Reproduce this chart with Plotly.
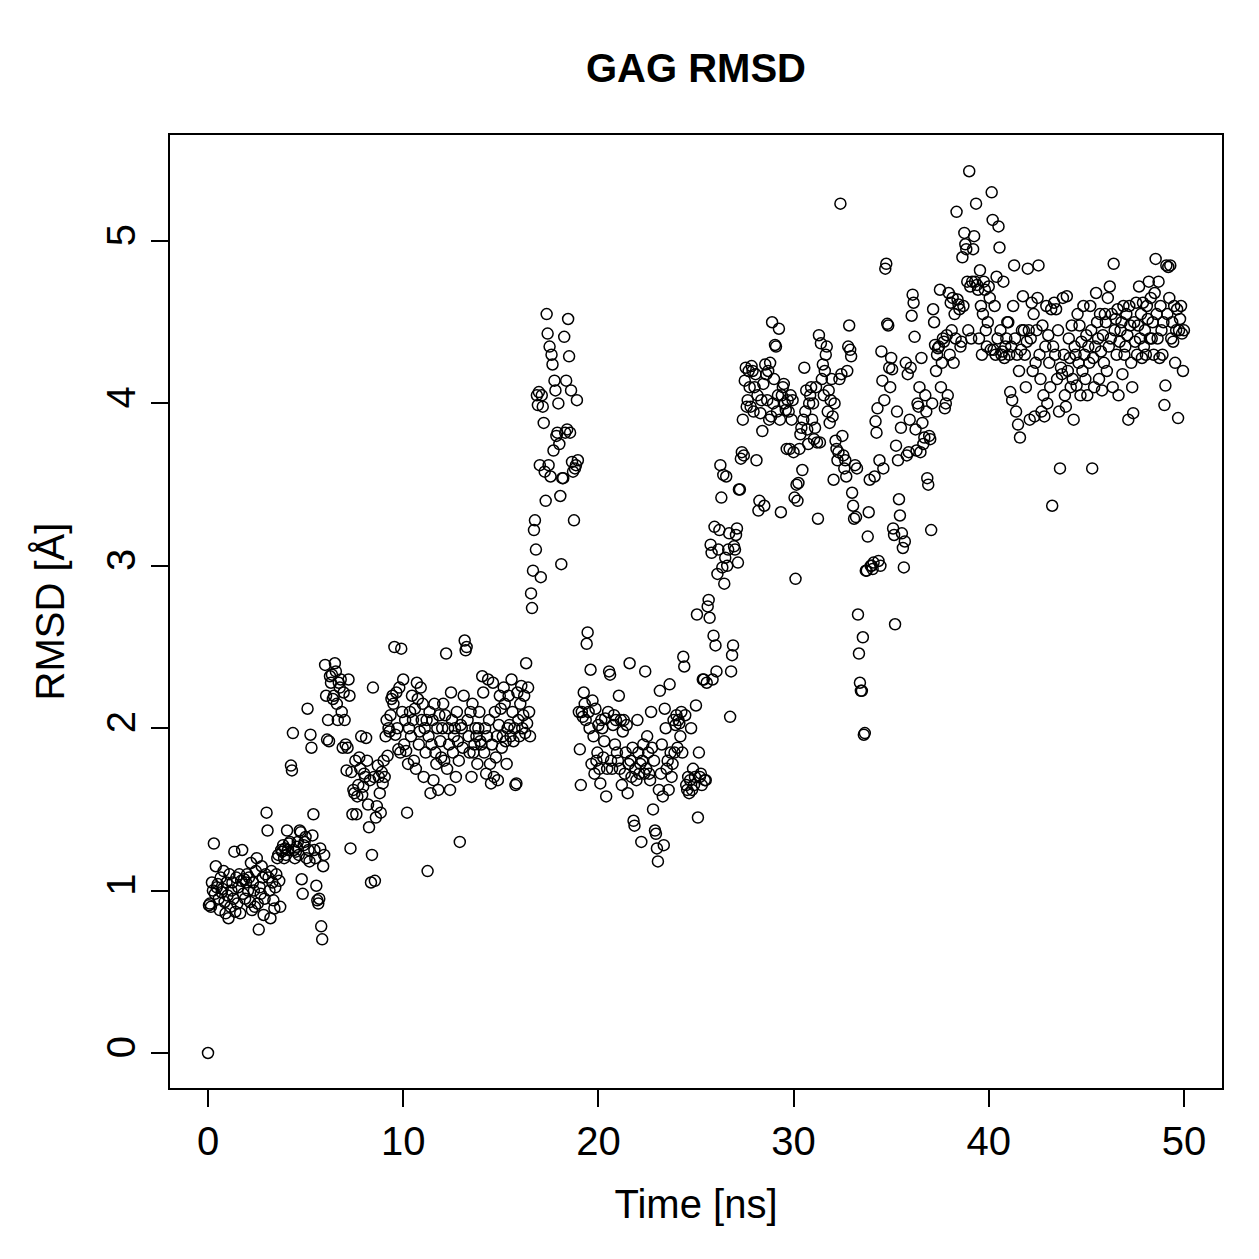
import plotly.graph_objects as go

# RMSD values, one sub-list per nanosecond (sampled every 0.05 ns)
rmsd_00_05 = [
    [0.00, 0.91, 0.92, 0.90, 1.05, 1.00, 1.29, 0.98, 1.15, 1.02, 1.04, 0.95, 0.88, 1.08, 0.99, 1.01, 1.12, 0.93, 0.86, 1.05],
    [0.97, 0.83, 1.10, 0.90, 1.00, 1.05, 0.95, 1.24, 0.87, 1.08, 0.92, 1.02, 1.10, 0.86, 1.06, 1.25, 0.98, 1.07, 0.95, 1.05],
    [1.10, 1.00, 1.08, 0.93, 1.17, 0.88, 1.05, 1.00, 0.90, 1.12, 1.20, 0.92, 0.76, 1.02, 0.98, 1.15, 1.08, 0.85, 0.95, 1.10],
    [1.48, 1.37, 1.08, 1.00, 0.83, 1.12, 1.05, 0.94, 0.89, 1.02, 1.10, 1.20, 1.22, 1.06, 0.90, 1.25, 1.24, 1.28, 1.20, 1.26],
    [1.22, 1.37, 1.25, 1.29, 1.30, 1.77, 1.74, 1.97, 1.25, 1.20, 1.24, 1.27, 1.30, 1.22, 1.37, 1.36, 1.07, 0.98, 1.28, 1.30],
]
rmsd_05_10 = [
    [1.33, 1.20, 2.12, 1.25, 1.18, 1.96, 1.88, 1.34, 1.47, 1.25, 1.20, 1.03, 0.94, 0.92, 0.95, 1.26, 0.78, 0.70, 1.15, 1.22],
    [2.39, 2.20, 1.93, 2.05, 1.92, 2.32, 2.28, 2.33, 2.18, 2.20, 2.40, 2.35, 2.15, 2.05, 2.28, 2.25, 2.30, 2.10, 1.88, 2.22],
    [2.05, 1.90, 1.74, 1.88, 2.30, 2.20, 1.26, 1.73, 1.47, 1.62, 1.60, 1.80, 1.47, 1.58, 1.65, 1.82, 1.75, 1.95, 1.59, 1.64],
    [1.72, 1.70, 1.94, 1.80, 1.53, 1.39, 1.68, 1.05, 1.22, 2.25, 1.70, 1.06, 1.45, 1.52, 1.77, 1.70, 1.60, 1.48, 1.73, 1.66],
    [1.80, 1.70, 1.95, 2.05, 1.83, 2.00, 1.98, 2.08, 2.18, 2.20, 2.15, 2.50, 1.96, 2.22, 2.00, 1.87, 2.25, 1.85, 2.49, 2.10],
]
rmsd_10_15 = [
    [2.30, 1.90, 2.05, 1.86, 1.48, 1.78, 2.00, 2.10, 1.95, 2.20, 2.05, 1.80, 2.12, 1.75, 2.28, 2.18, 1.90, 1.98, 2.25, 2.05],
    [2.15, 1.70, 2.00, 1.85, 2.05, 1.12, 1.95, 2.10, 1.60, 1.90, 2.05, 1.68, 2.15, 1.85, 1.78, 2.00, 1.62, 2.08, 1.92, 1.82],
    [2.00, 2.15, 1.80, 2.08, 2.46, 1.75, 2.00, 1.90, 1.62, 2.22, 2.05, 1.85, 1.95, 2.00, 1.70, 2.10, 1.92, 1.80, 1.30, 2.02],
    [2.00, 1.88, 2.20, 2.54, 2.48, 2.50, 2.05, 1.95, 1.85, 2.10, 1.70, 2.15, 1.85, 1.90, 2.00, 1.95, 1.78, 2.00, 2.10, 1.92],
    [1.90, 2.32, 2.22, 1.85, 2.00, 1.72, 1.95, 2.30, 2.05, 1.78, 1.66, 1.90, 2.28, 1.70, 2.10, 1.82, 1.95, 1.68, 2.02, 2.20],
]
rmsd_15_20 = [
    [2.12, 1.88, 1.95, 2.25, 2.15, 1.92, 1.78, 2.00, 2.20, 2.02, 1.95, 2.30, 2.10, 1.92, 2.00, 1.65, 1.66, 2.22, 2.05, 1.95],
    [2.15, 2.26, 2.00, 2.08, 2.20, 1.97, 2.40, 2.03, 2.25, 2.10, 1.95, 2.83, 2.74, 2.97, 3.22, 3.28, 3.10, 4.05, 3.99, 4.07],
    [3.62, 2.93, 4.05, 3.98, 3.88, 3.58, 3.40, 4.55, 4.43, 3.62, 4.35, 3.55, 4.30, 4.24, 3.71, 4.14, 4.08, 3.80, 3.82, 4.00],
    [3.75, 3.43, 3.01, 3.54, 3.54, 4.41, 3.82, 4.14, 3.84, 4.52, 4.29, 3.82, 4.08, 3.64, 3.58, 3.28, 3.60, 3.62, 4.02, 3.65],
    [2.10, 1.87, 1.65, 2.10, 2.07, 2.22, 2.15, 2.05, 2.52, 2.59, 2.10, 2.00, 2.36, 1.78, 2.17, 1.95, 1.72, 2.12, 1.80, 1.85],
]
rmsd_20_25 = [
    [2.02, 1.75, 1.66, 2.05, 2.00, 1.82, 1.92, 2.06, 1.58, 1.75, 2.10, 2.35, 2.33, 1.80, 1.75, 2.02, 2.08, 1.90, 2.05, 1.85],
    [1.80, 2.20, 1.75, 2.05, 1.65, 1.98, 2.05, 1.72, 1.85, 2.02, 1.60, 1.78, 2.40, 1.80, 1.70, 1.88, 1.43, 1.40, 1.75, 1.68],
    [2.05, 1.85, 1.72, 1.78, 1.30, 1.80, 1.90, 1.72, 2.35, 1.75, 1.95, 1.85, 1.72, 1.68, 2.10, 1.88, 1.50, 1.80, 1.37, 1.35],
    [1.26, 1.18, 1.62, 2.23, 1.72, 1.90, 1.58, 1.28, 2.12, 2.00, 1.75, 1.80, 1.62, 2.27, 1.85, 1.70, 1.78, 2.05, 1.85, 2.02],
    [2.08, 1.88, 2.05, 2.03, 1.95, 2.10, 1.85, 2.44, 2.38, 2.08, 1.65, 1.62, 1.70, 1.60, 1.68, 2.00, 1.62, 1.75, 1.65, 1.70],
]
rmsd_25_30 = [
    [2.14, 2.70, 1.45, 1.85, 1.70, 1.72, 1.65, 2.30, 2.30, 1.68, 1.68, 2.28, 2.75, 2.79, 2.68, 3.13, 3.08, 2.30, 2.57, 3.24],
    [2.51, 2.35, 2.95, 3.10, 3.22, 3.62, 3.42, 2.99, 3.56, 2.89, 3.05, 3.55, 3.00, 3.10, 3.20, 2.07, 2.35, 2.45, 2.51, 3.12],
    [3.10, 3.19, 3.23, 3.02, 3.47, 3.47, 3.66, 3.70, 3.90, 3.68, 4.14, 4.22, 3.98, 4.02, 4.20, 4.10, 3.98, 4.23, 4.20, 3.95],
    [4.10, 4.18, 3.65, 4.05, 3.34, 3.40, 3.94, 4.02, 3.83, 4.12, 3.37, 4.24, 4.18, 4.02, 4.20, 3.90, 4.25, 3.92, 4.50, 4.00],
    [4.15, 4.36, 4.35, 3.95, 4.05, 4.46, 3.90, 3.33, 4.05, 4.10, 4.12, 4.00, 3.96, 3.72, 4.02, 3.95, 3.72, 4.05, 3.90, 4.02],
]
rmsd_30_35 = [
    [3.70, 3.42, 2.92, 3.50, 3.40, 3.51, 3.72, 3.81, 3.85, 3.59, 3.90, 4.22, 3.95, 4.08, 3.84, 3.75, 4.00, 4.05, 4.10, 3.90],
    [4.00, 3.78, 3.85, 4.10, 3.76, 3.29, 4.42, 3.76, 4.37, 4.15, 4.24, 4.05, 4.20, 4.30, 4.35, 3.95, 4.08, 3.88, 4.02, 4.15],
    [3.92, 3.53, 4.00, 3.77, 3.72, 3.65, 3.70, 4.15, 5.23, 4.18, 3.80, 3.68, 3.60, 3.65, 3.55, 4.20, 4.35, 4.48, 4.33, 4.29],
    [3.45, 3.37, 3.29, 3.62, 3.30, 3.60, 2.70, 2.46, 2.28, 2.23, 2.23, 2.56, 1.96, 1.97, 2.97, 2.97, 3.18, 3.33, 3.53, 3.00],
    [3.00, 2.98, 3.02, 3.55, 3.89, 3.82, 3.97, 3.03, 3.65, 3.00, 4.32, 4.14, 3.60, 4.02, 4.83, 4.86, 4.49, 4.48, 4.22, 4.10],
]
rmsd_35_40 = [
    [4.28, 4.21, 3.23, 3.19, 2.64, 3.74, 3.95, 3.65, 3.41, 3.31, 3.85, 3.20, 3.11, 2.99, 3.15, 4.25, 3.68, 4.18, 3.70, 3.90],
    [4.22, 4.54, 4.67, 4.62, 4.41, 3.84, 3.71, 4.00, 3.98, 4.10, 3.70, 4.28, 3.88, 3.75, 3.79, 4.05, 3.95, 3.54, 3.50, 3.80],
    [3.78, 3.22, 4.00, 4.58, 4.50, 4.36, 4.20, 4.30, 4.34, 4.35, 4.70, 4.10, 4.25, 4.40, 4.38, 3.97, 4.00, 4.42, 4.05, 4.68],
    [4.30, 4.62, 4.45, 4.65, 4.25, 4.55, 4.40, 5.18, 4.64, 4.61, 4.58, 4.35, 4.38, 4.90, 4.60, 5.05, 4.98, 4.95, 4.75, 4.45],
    [5.43, 4.72, 4.40, 4.75, 4.95, 5.03, 4.75, 5.23, 4.73, 4.70, 4.40, 4.82, 4.60, 4.30, 4.55, 4.75, 4.70, 4.45, 4.35, 4.50],
]
rmsd_40_45 = [
    [4.72, 4.65, 4.33, 5.30, 5.13, 4.33, 4.60, 4.30, 4.78, 4.40, 5.09, 4.96, 4.45, 4.30, 4.32, 4.75, 4.28, 4.35, 4.40, 4.50],
    [4.50, 4.30, 4.07, 4.35, 4.02, 4.60, 4.85, 4.40, 3.95, 4.30, 3.87, 4.20, 3.79, 4.33, 4.45, 4.66, 4.45, 4.30, 4.10, 4.38],
    [4.83, 4.45, 3.90, 4.40, 4.62, 4.20, 4.55, 3.92, 4.25, 4.45, 4.65, 4.85, 4.30, 4.15, 3.95, 4.48, 4.05, 3.92, 4.35, 4.60],
    [4.00, 4.42, 4.25, 4.10, 4.58, 3.37, 4.35, 4.62, 4.30, 4.58, 4.15, 4.45, 3.95, 3.60, 4.22, 4.18, 4.65, 4.30, 4.05, 3.98],
    [4.66, 4.20, 4.40, 4.28, 4.10, 4.48, 4.15, 3.90, 4.35, 4.30, 4.11, 4.55, 4.25, 4.48, 4.05, 4.38, 4.20, 4.60, 4.30, 4.15],
]
rmsd_45_50 = [
    [4.42, 4.05, 4.35, 4.25, 4.60, 4.45, 3.60, 4.28, 4.10, 4.35, 4.68, 4.50, 4.40, 4.15, 4.55, 4.32, 4.08, 4.42, 4.25, 4.55],
    [4.50, 4.20, 4.65, 4.35, 4.72, 4.40, 4.55, 4.10, 4.86, 4.45, 4.52, 4.30, 4.58, 4.05, 4.38, 4.45, 4.50, 4.18, 4.60, 4.30],
    [4.35, 4.55, 4.42, 3.90, 4.60, 4.48, 4.25, 4.10, 3.94, 4.50, 4.38, 4.62, 4.30, 4.48, 4.72, 4.40, 4.55, 4.28, 4.62, 4.35],
    [4.45, 4.30, 4.60, 4.52, 4.75, 4.40, 4.65, 4.40, 4.50, 4.30, 4.68, 4.89, 4.55, 4.40, 4.75, 4.28, 4.60, 4.45, 4.30, 4.50],
    [3.99, 4.11, 4.85, 4.55, 4.84, 4.65, 4.85, 4.40, 4.50, 4.38, 4.60, 4.25, 4.45, 4.58, 3.91, 4.45, 4.52, 4.60, 4.43, 4.20],
    [4.45],
]

segments = [rmsd_00_05, rmsd_05_10, rmsd_10_15, rmsd_15_20, rmsd_20_25,
            rmsd_25_30, rmsd_30_35, rmsd_35_40, rmsd_40_45, rmsd_45_50]
SAMPLE_NS = 0.05

time_ns, rmsd = [], []
for s, seg in enumerate(segments):
    for k, block in enumerate(seg):
        start = s * 5 + k
        for j, v in enumerate(block):
            time_ns.append(round(start + j * SAMPLE_NS, 2))
            rmsd.append(v)

x_ticks = [0, 10, 20, 30, 40, 50]
y_ticks = [0, 1, 2, 3, 4, 5]

fig = go.Figure()
fig.add_trace(go.Scatter(
    x=time_ns, y=rmsd, mode="markers",
    marker=dict(symbol="circle-open", size=11, color="black",
                line=dict(width=1.5, color="black")),
    showlegend=False,
))

font_family = "Liberation Sans, Arial, Helvetica, sans-serif"
fig.update_layout(
    width=1259, height=1259,
    margin=dict(l=170, r=37, t=135, b=171),
    paper_bgcolor="white", plot_bgcolor="white",
    font=dict(family=font_family, size=40, color="black"),
    title=dict(text="<b>GAG RMSD</b>", x=696 / 1259, xanchor="center",
               y=1 - 68 / 1259, yanchor="middle", yref="container",
               font=dict(size=40, family=font_family, color="black")),
    xaxis=dict(range=[-1.947, 51.95], tickvals=x_ticks, ticks="outside",
               ticklen=17, tickwidth=2, tickcolor="black",
               showgrid=False, zeroline=False, showline=True, linewidth=2,
               linecolor="black", mirror=True,
               tickfont=dict(size=40),
               title=dict(text="Time [ns]", standoff=28, font=dict(size=40))),
    yaxis=dict(range=[-0.2155, 5.653], tickvals=y_ticks, ticks="outside",
               ticklen=17, tickwidth=2, tickcolor="black", tickangle=-90,
               showgrid=False, zeroline=False, showline=True, linewidth=2,
               linecolor="black", mirror=True,
               tickfont=dict(size=40),
               title=dict(text="RMSD [Å]", standoff=22, font=dict(size=40))),
)

fig.write_html("out.html")
